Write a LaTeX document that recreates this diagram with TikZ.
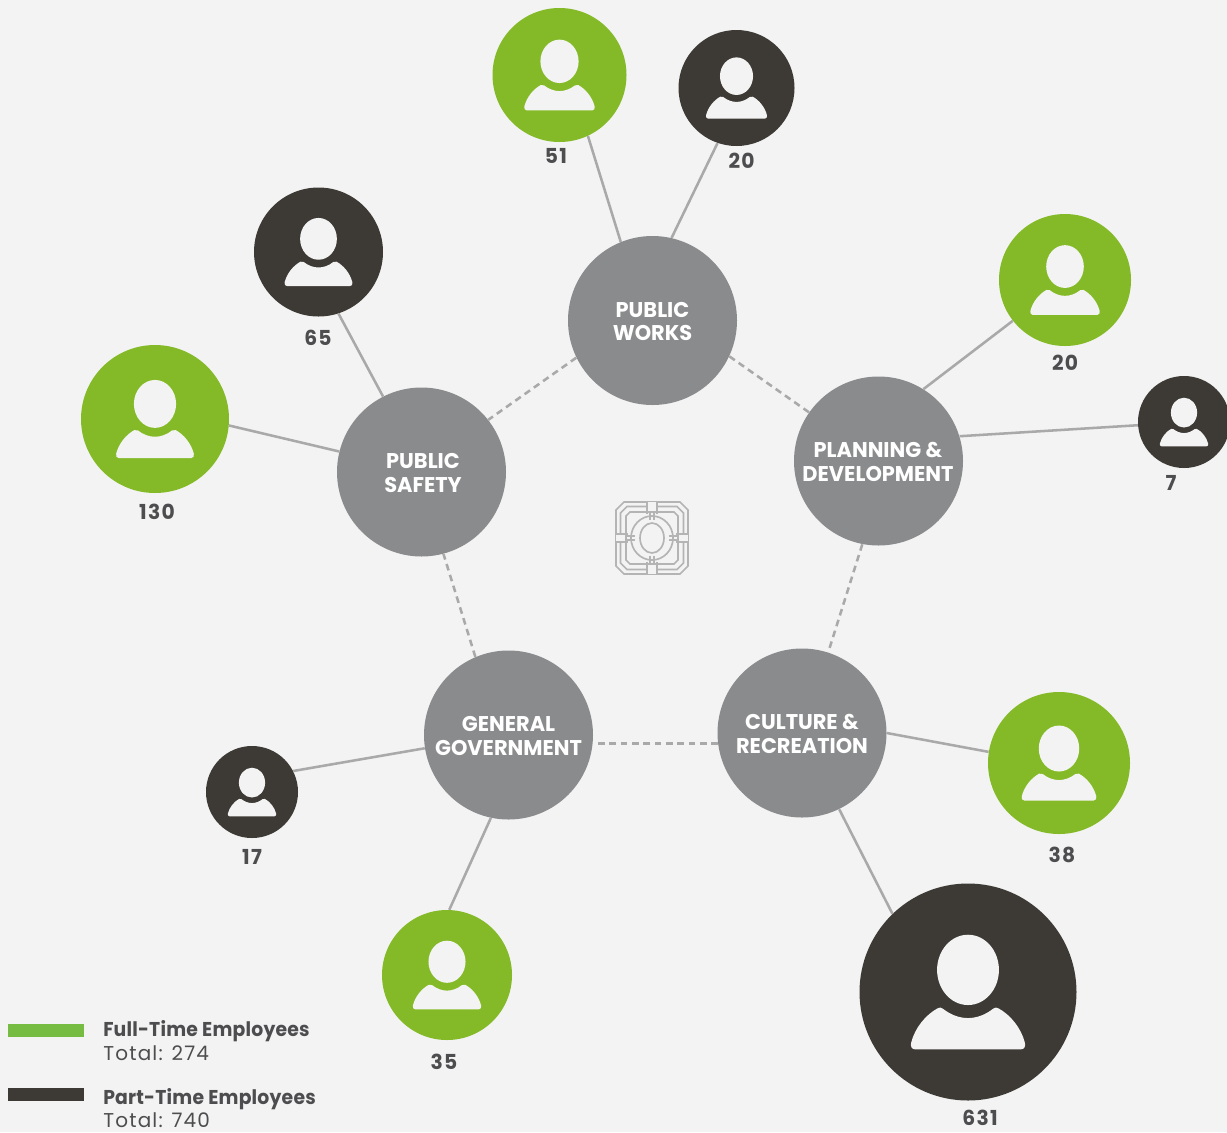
\documentclass[tikz,border=0pt]{standalone}
\usepackage{fontspec}
\setmainfont{Poppins}
\newfontfamily\hubface[FakeStretch=0.98]{Poppins}
\newfontfamily\numface[FakeStretch=0.98,LetterSpace=6]{Poppins}
\newfontfamily\headface[FakeStretch=0.94,LetterSpace=1]{Poppins}
\newfontfamily\subface[FakeStretch=1.0,LetterSpace=6]{Poppins}
\definecolor{bgc}{HTML}{F3F3F3}
\definecolor{grn}{HTML}{84BA27}
\definecolor{drk}{HTML}{3D3935}
\definecolor{gry}{HTML}{8A8B8D}
\definecolor{lnc}{HTML}{A9A9A9}
\definecolor{txc}{HTML}{4D4D4F}
\definecolor{lgn}{HTML}{76BC43}
\definecolor{emb}{HTML}{B4B4B4}
\tikzset{
  hub/.style={circle,fill=gry,draw=none,inner sep=0,minimum size=169*0.75pt},
  hubtext/.style={text=white,align=center,inner sep=0,font=\hubface\bfseries\fontsize{16}{17.5}\selectfont},
  fte/.style={circle,fill=grn,draw=none,inner sep=0},
  pte/.style={circle,fill=drk,draw=none,inner sep=0},
  solidlink/.style={draw=lnc,line width=1.9pt},
  dashlink/.style={draw=lnc,line width=1.9pt,dash pattern=on 5pt off 3.5pt},
  numlabel/.style={text=txc,font=\numface\bfseries\fontsize{15.5}{18}\selectfont,inner sep=0},
  legendhead/.style={text=txc,font=\headface\bfseries\fontsize{15}{16}\selectfont,inner sep=0,anchor=west},
  legendsub/.style={text=txc,font=\subface\fontsize{15}{16}\selectfont,inner sep=0,anchor=west},
  emline/.style={draw=emb,line width=1.25pt,fill=none},
  person/.pic={
    \fill[bgc] (0,-0.204) ellipse [x radius=0.285,y radius=0.324];
    \fill[bgc] (-0.49,0.528) .. controls (-0.52,0.528) and (-0.53,0.50) .. (-0.525,0.47)
      .. controls (-0.49,0.33) and (-0.39,0.21) .. (-0.28,0.15)
      .. controls (-0.26,0.14) and (-0.25,0.14) .. (-0.23,0.155)
      .. controls (-0.16,0.21) and (-0.08,0.24) .. (0,0.24)
      .. controls (0.08,0.24) and (0.16,0.21) .. (0.23,0.155)
      .. controls (0.25,0.14) and (0.26,0.14) .. (0.28,0.15)
      .. controls (0.39,0.21) and (0.49,0.33) .. (0.525,0.47)
      .. controls (0.53,0.50) and (0.52,0.528) .. (0.49,0.528) -- cycle;
  }
}
\newcommand{\worker}[5]{% name, style, x, y, r
  \node[#2,minimum size=#5*1.5pt] (#1) at (#3,#4) {};
  \pic[x=#5*0.75pt,y=-#5*0.75pt] at (#1) {person};
}
\begin{document}
\begin{tikzpicture}[x=0.75pt,y=-0.75pt]
\path[fill=bgc,use as bounding box] (0,0) rectangle (1227,1132);
\clip (0,0) rectangle (1227,1132);
% hubs
\node[hub] (pw) at (652.5,320.5) {};
\node[hub] (pd) at (878.5,461) {};
\node[hub] (cr) at (802,733) {};
\node[hub] (gg) at (508.5,735) {};
\node[hub] (ps) at (421.5,472) {};
\node[hubtext] (pwt) at (652.5,321.5) {PUBLIC\\WORKS};
\node[hubtext] (pdt) at (878,462) {PLANNING \&\\DEVELOPMENT};
\node[hubtext] (crt) at (802,734) {CULTURE \&\\RECREATION};
\node[hubtext] (ggt) at (508.5,736) {GENERAL\\GOVERNMENT};
\node[hubtext] (pst) at (423,473) {PUBLIC\\SAFETY};
% employees
\worker{pwf}{fte}{559.5}{75}{67}
\worker{pwp}{pte}{736.5}{88}{58}
\worker{psp}{pte}{318.5}{252}{64.5}
\worker{psf}{fte}{155}{419}{74}
\worker{pdf}{fte}{1065}{280}{66}
\worker{pdp}{pte}{1184}{422}{46}
\worker{crf}{fte}{1059}{763}{71}
\worker{crp}{pte}{968}{992}{108.5}
\worker{ggf}{fte}{447}{975}{65}
\worker{ggp}{pte}{252}{792}{46}
% links
\draw[solidlink] (pwf.-65.4) -- (pw.112.8);
\draw[solidlink] (pwp.-109.5) -- (pw.77.9);
\draw[solidlink] (psp.-72) -- (ps.117.2);
\draw[solidlink] (psf.-5.5) -- (ps.166.9);
\draw[solidlink] (pdf.-142.4) -- (pd.58.5);
\draw[solidlink] (pdp.-176.3) -- (pd.17.7);
\draw[solidlink] (crf.171.9) -- (cr.0);
\draw[solidlink] (crp.134.3) -- (cr.-64);
\draw[solidlink] (ggf.88.2) -- (gg.-102);
\draw[solidlink] (ggp.27) -- (gg.189);
\draw[dashlink] (pw.206.4) -- (ps.38.4);
\draw[dashlink] (pw.-25.8) -- (pd.145.7);
\draw[dashlink] (pd.-101.1) -- (cr.72);
\draw[dashlink] (cr.-173.8) -- (cr.-173.8 -| gg.east);
\draw[dashlink] (gg.113.9) -- (ps.-75.8);
% numbers
\node[numlabel] (n1) at (556,155.5) {51};
\node[numlabel] (n2) at (741.5,160.5) {20};
\node[numlabel] (n3) at (318,337.5) {65};
\node[numlabel] (n4) at (157,511.5) {130};
\node[numlabel] (n5) at (1065,362.5) {20};
\node[numlabel] (n6) at (1171,482.5) {7};
\node[numlabel] (n7) at (1062,854.5) {38};
\node[numlabel] (n8) at (980,1118) {631};
\node[numlabel] (n9) at (444,1061.5) {35};
\node[numlabel] (n10) at (252,856.5) {17};
% emblem
\begin{scope}[shift={(652,538)}]
  \draw[emline] (-28,-36)--(28,-36)--(36,-28)--(36,28)--(28,36)--(-28,36)--(-36,28)--(-36,-28)--cycle;
  \draw[emline] (-25,-31.5)--(25,-31.5)--(31.5,-25)--(31.5,25)--(25,31.5)--(-25,31.5)--(-31.5,25)--(-31.5,-25)--cycle;
  \draw[emline] (-22,-26)--(22,-26)--(26,-22)--(26,22)--(22,26)--(-22,26)--(-26,22)--(-26,-22)--cycle;
  % bands from the rim to the ring
  \fill[bgc] (-5,-36) rectangle (5,36);
  \fill[bgc] (-36,-4.2) rectangle (36,4.2);
  \draw[emline] (-5,-36)--(-5,-24) (5,-36)--(5,-24) (-5,36)--(-5,24) (5,36)--(5,24);
  \draw[emline] (-36,-4.2)--(-24,-4.2) (-36,4.2)--(-24,4.2) (36,-4.2)--(24,-4.2) (36,4.2)--(24,4.2);
  \draw[emline] (-5,-26)--(5,-26) (-5,26)--(5,26) (-26,-4.2)--(-26,4.2) (26,-4.2)--(26,4.2);
  \draw[emline] (-2,-26)--(-2,-18) (2,-26)--(2,-18) (-2,26)--(-2,18) (2,26)--(2,18);
  \draw[emline] (-26,-2)--(-17,-2) (-26,2)--(-17,2) (26,-2)--(17,-2) (26,2)--(17,2);
  % rings
  \draw[emline] (0,0) ellipse [x radius=21,y radius=22];
  \fill[bgc] (0,0) ellipse [x radius=12,y radius=15];
  \draw[emline] (0,0) ellipse [x radius=12,y radius=15];
\end{scope}
% legend
\node[fill=lgn,minimum width=76*0.75pt,minimum height=13*0.75pt,inner sep=0] (lg1) at (46,1030.5) {};
\node[fill=drk,minimum width=76*0.75pt,minimum height=13*0.75pt,inner sep=0] (lg2) at (46,1094.5) {};
\node[legendhead] (lh1) at (103,1031) {Full-Time Employees};
\node[legendsub] (ls1) at (103,1053) {Total: 274};
\node[legendhead] (lh2) at (103,1099) {Part-Time Employees};
\node[legendsub] (ls2) at (103,1120) {Total: 740};
\end{tikzpicture}
\end{document}
